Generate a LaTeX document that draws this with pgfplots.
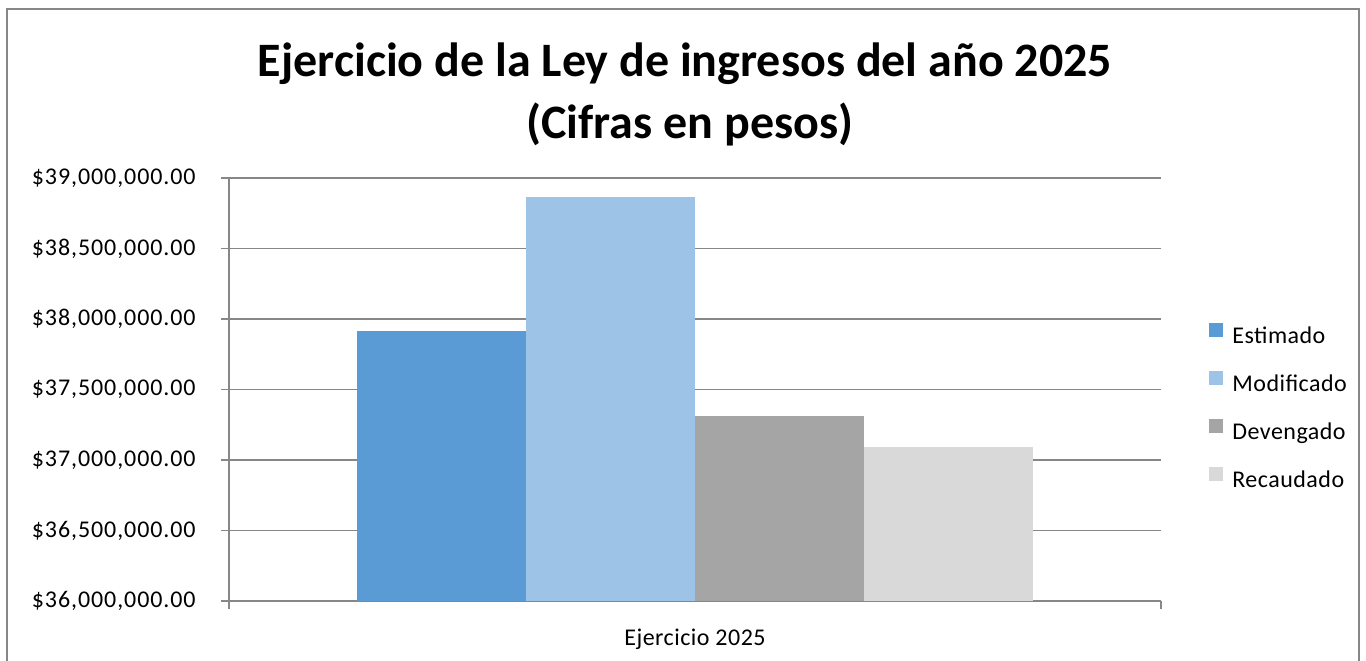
\documentclass[border=0pt]{standalone}
\usepackage{fontspec}
\setmainfont{Carlito}
\newfontfamily\spaced[LetterSpace=3.8]{Carlito}
\newfontfamily\spacedleg[LetterSpace=2]{Carlito}
\usepackage{pgfplots}
\pgfplotsset{compat=1.18}
\definecolor{cEst}{HTML}{5B9BD5}
\definecolor{cMod}{HTML}{9DC3E6}
\definecolor{cDev}{HTML}{A5A5A5}
\definecolor{cRec}{HTML}{D9D9D9}
\definecolor{gridgray}{HTML}{878787}
\begin{document}
\begin{tikzpicture}
\useasboundingbox (0,0) rectangle (683pt,330pt);
\clip (0,0) rectangle (683pt,330pt);
\draw[gridgray, line width=0.9pt] (3.5pt,-5pt) rectangle (679.5pt,325.5pt);
\node[anchor=base, inner sep=0pt, font=\fontsize{24}{29}\selectfont\bfseries] at (342.5pt,291.6pt) {Ejercicio de la Ley de ingresos del año 2025};
\node[anchor=base, inner sep=0pt, font=\fontsize{24}{29}\selectfont\bfseries] at (345pt,260.6pt) {(Cifras en pesos)};
\node[anchor=base, inner sep=0pt, font=\spacedleg\fontsize{12}{14}\selectfont] at (347.5pt,7.5pt) {Ejercicio 2025};
\begin{axis}[
  at={(114.5pt,29.5pt)}, anchor=south west,
  scale only axis, width=466pt, height=211.5pt,
  xmin=-1, xmax=1, ymin=36000000, ymax=39000000,
  ybar=0pt, bar width=84.5pt,
  axis x line*=bottom, axis y line*=left,
  axis line style={gridgray, line width=0.9pt},
  ytick={36000000,36500000,37000000,37500000,38000000,38500000,39000000},
  yticklabels={{\$36,000,000.00},{\$36,500,000.00},{\$37,000,000.00},{\$37,500,000.00},{\$38,000,000.00},{\$38,500,000.00},{\$39,000,000.00}},
  scaled y ticks=false,
  xtick={-1,1}, xticklabels={,},
  ymajorgrids, grid style={gridgray, line width=0.9pt},
  tick align=outside, major tick length=4pt,
  tick style={gridgray, line width=0.9pt},
  tick label style={font=\spaced\fontsize{12}{14}\selectfont},
  yticklabel style={inner sep=0pt},
  yticklabel shift=12.5pt,
  legend style={at={(1.0515,0.457)}, anchor=west, draw=none, fill=none, inner sep=0pt,
    row sep=11.5pt, column sep=4.5pt, font=\spacedleg\fontsize{12}{14}\selectfont,
    nodes={inner sep=0pt, text height=8.5pt, text depth=2.5pt}},
  legend cell align=left,
  legend image code/.code={\fill[#1] (0pt,0pt) rectangle (7pt,7pt);},
]
\addplot[fill=cEst, draw=none] coordinates {(0,37912000)};
\addlegendentry{Estimado}
\addplot[fill=cMod, draw=none] coordinates {(0,38864000)};
\addlegendentry{Modificado}
\addplot[fill=cDev, draw=none] coordinates {(0,37309000)};
\addlegendentry{Devengado}
\addplot[fill=cRec, draw=none] coordinates {(0,37094000)};
\addlegendentry{Recaudado}
\end{axis}
\end{tikzpicture}
\end{document}
